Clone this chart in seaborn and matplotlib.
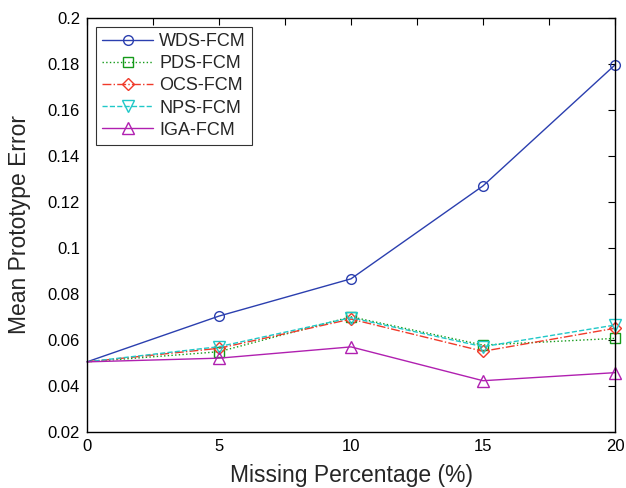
import matplotlib
matplotlib.use("Agg")
import matplotlib.pyplot as plt
import seaborn as sns
import pandas as pd
from matplotlib.ticker import MultipleLocator

missing = [0, 5, 10, 15, 20]
wds = [0.0505, 0.0704, 0.0866, 0.1270, 0.1796]
pds = [0.0505, 0.0549, 0.0701, 0.0578, 0.0607]
ocs = [0.0505, 0.0564, 0.0691, 0.0551, 0.0651]
nps = [0.0505, 0.0571, 0.0697, 0.0571, 0.0665]
iga = [0.0505, 0.0521, 0.0570, 0.0423, 0.0458]

names = ["WDS-FCM", "PDS-FCM", "OCS-FCM", "NPS-FCM", "IGA-FCM"]
series = [wds, pds, ocs, nps, iga]
colors = ["#2b3faf", "#159a1a", "#f03a2a", "#20c8c8", "#b020b0"]
markers = ["o", "s", "D", "v", "^"]
msizes = [7, 7, 6, 8, 8.5]
styles = ["-", ":", "-.", "--", "-"]

rows = []
for n, s in zip(names, series):
    for x, y in zip(missing, s):
        rows.append({"x": x, "y": y, "method": n})
df = pd.DataFrame(rows)

sns.set_style("white")
plt.rcParams["font.family"] = ["Liberation Sans", "DejaVu Sans"]

fig = plt.figure(figsize=(6.26, 4.88), dpi=100)
ax = fig.add_axes([87/626, 1 - 432/488, (615-87)/626, (432-18)/488])

for n, c, m, ms, ls in zip(names, colors, markers, msizes, styles):
    sub = df[df["method"] == n]
    sns.lineplot(data=sub, x="x", y="y", ax=ax, color=c, marker=m, linestyle=ls,
                 linewidth=1.0, markersize=ms, markevery=[1, 2, 3, 4],
                 markerfacecolor="none", markeredgecolor=c, markeredgewidth=1.0,
                 label=n, clip_on=False)

ax.set_xlim(0, 20)
ax.set_ylim(0.02, 0.2)
ax.xaxis.set_major_locator(MultipleLocator(5))
ax.xaxis.set_minor_locator(MultipleLocator(2.5))
ax.set_yticks([0.02, 0.04, 0.06, 0.08, 0.1, 0.12, 0.14, 0.16, 0.18, 0.2])
ax.set_yticklabels(["0.02", "0.04", "0.06", "0.08", "0.1", "0.12", "0.14", "0.16", "0.18", "0.2"])
ax.tick_params(axis="both", which="both", direction="in", top=True, right=True,
               length=5, width=0.8, labelsize=12, colors="black", pad=5)
for sp in ax.spines.values():
    sp.set_color("black")
    sp.set_linewidth(1.0)

ax.set_xlabel("Missing Percentage (%)", fontsize=16.5, labelpad=7)
ax.set_ylabel("Mean Prototype Error", fontsize=16.5, labelpad=12)

leg = ax.legend(loc="upper left", fontsize=13, frameon=True, fancybox=False,
                edgecolor="black", handlelength=2.8, borderpad=0.35,
                labelspacing=0.28, handletextpad=0.35, borderaxespad=0.5)
leg.get_frame().set_linewidth(0.8)

fig.savefig("out.png", dpi=100)
